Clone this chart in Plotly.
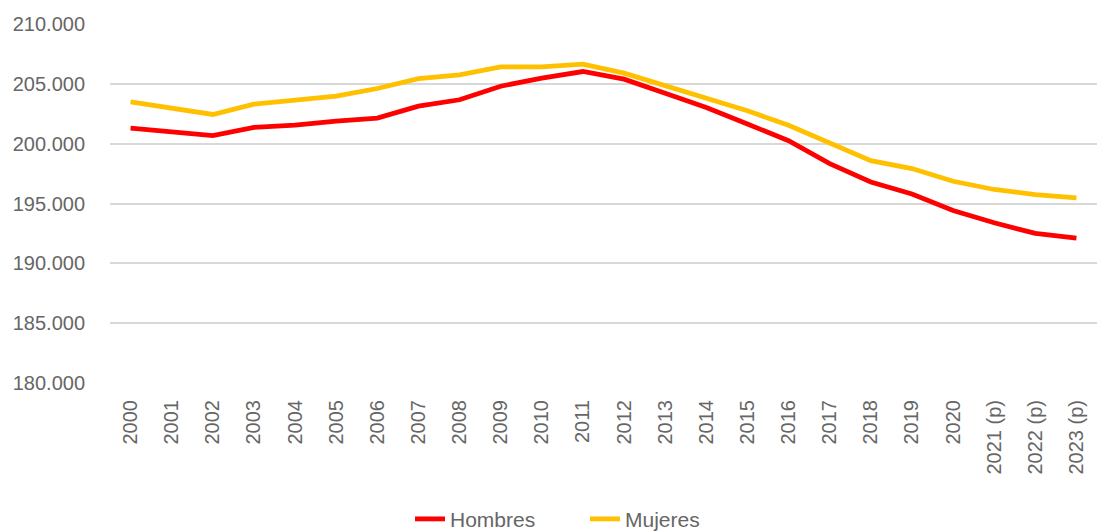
import plotly.graph_objects as go

years = ["2000", "2001", "2002", "2003", "2004", "2005", "2006", "2007", "2008", "2009",
         "2010", "2011", "2012", "2013", "2014", "2015", "2016", "2017", "2018", "2019",
         "2020", "2021 (p)", "2022 (p)", "2023 (p)"]

hombres = [201300, 200970, 200670, 201360, 201550, 201890, 202140, 203140, 203670, 204800,
           205470, 206030, 205390, 204220, 203030, 201640, 200250, 198330, 196800, 195800,
           194420, 193390, 192500, 192110]

mujeres = [203500, 202950, 202440, 203300, 203610, 203970, 204610, 205440, 205750, 206420,
           206420, 206640, 205890, 204830, 203800, 202750, 201530, 200060, 198580, 197920,
           196860, 196170, 195750, 195470]

y_ticks = [180000, 185000, 190000, 195000, 200000, 205000, 210000]

font_family = "Liberation Sans, Arial, sans-serif"
grey = "#666666"

fig = go.Figure()
fig.add_trace(go.Scatter(x=years, y=hombres, mode="lines", name="Hombres",
                         line=dict(color="#FF0000", width=4.8)))
fig.add_trace(go.Scatter(x=years, y=mujeres, mode="lines", name="Mujeres",
                         line=dict(color="#FFC000", width=4.8)))

fig.update_layout(
    width=1097, height=532,
    paper_bgcolor="white", plot_bgcolor="white",
    margin=dict(l=110, r=0, t=24, b=149, autoexpand=False),
    separators=",.",
    font=dict(family=font_family, color=grey, size=20),
    showlegend=True,
    legend=dict(orientation="h", xref="container", yref="container",
                x=410 / 1097, xanchor="left", y=0.024, yanchor="middle",
                font=dict(size=21, color=grey), itemwidth=30,
                entrywidth=130, entrywidthmode="pixels",
                traceorder="normal"),
)
fig.update_xaxes(type="category", range=[-0.5, len(years) - 0.5], tickangle=-90,
                 tickfont=dict(size=20, color=grey),
                 showgrid=False, ticks="outside", ticklen=8, tickcolor="rgba(0,0,0,0)",
                 showline=False)
fig.update_yaxes(range=[180000, 210000], tickvals=y_ticks, tickformat=",.0f",
                 showgrid=True, gridcolor="#D9D9D9", gridwidth=1.5, zeroline=False,
                 tickfont=dict(size=20, color=grey), ticks="outside", ticklen=20,
                 tickcolor="rgba(0,0,0,0)", showline=False)

fig.write_html(
    "out.html",
    config={"displayModeBar": False},
    post_script="document.body.style.margin='0';document.body.style.overflow='hidden';",
)
